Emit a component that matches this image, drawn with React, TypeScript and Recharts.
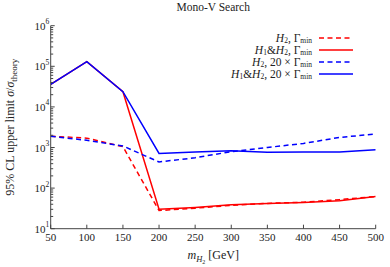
import React from 'react';
import { LineChart, Line, XAxis, YAxis, Legend } from 'recharts';

const massValues = [50, 100, 150, 200, 250, 300, 350, 400, 450, 500];
const h2GminValues = [1900, 1700, 1050, 28, 32, 37.6, 42, 45, 52, 62];
const h1h2GminValues = [36000, 130000, 23700, 30, 33.5, 39, 42, 44.5, 49, 62];
const h2G20Values = [1900, 1500, 1090, 440, 560, 790, 1000, 1260, 1770, 2150];
const h1h2G20Values = [36000, 130000, 23700, 716, 773, 830, 760, 775, 775, 884];

const xTicks = [50, 100, 150, 200, 250, 300, 350, 400, 450, 500];
const yMajorTicks = [10, 100, 1000, 10000, 100000, 1000000];
const yMinorMultipliers = [2, 3, 4, 5, 6, 7, 8, 9];

const yMinorTicks: number[] = [];
yMajorTicks.slice(0, -1).forEach((d) => yMinorMultipliers.forEach((k) => yMinorTicks.push(d * k)));
const yAllTicks = [...yMajorTicks, ...yMinorTicks].sort((a, b) => a - b);

const data = massValues.map((m, i) => ({
  m,
  h2Gmin: h2GminValues[i],
  h1h2Gmin: h1h2GminValues[i],
  h2G20: h2G20Values[i],
  h1h2G20: h1h2G20Values[i],
}));

type Series = { key: string; color: string; dashed: boolean; both: boolean; wide: boolean };
const series: Series[] = [
  { key: 'h2Gmin', color: '#ff0000', dashed: true, both: false, wide: false },
  { key: 'h1h2Gmin', color: '#ff0000', dashed: false, both: true, wide: false },
  { key: 'h2G20', color: '#0000ff', dashed: true, both: false, wide: true },
  { key: 'h1h2G20', color: '#0000ff', dashed: false, both: true, wide: true },
];

const FONT = '"Liberation Serif", "DejaVu Serif", serif';
const FRAME = '#444';
const TEXT = '#222';
const DASH = '5 3.5';

const isMajor = (v: number) => yMajorTicks.includes(v);

const BottomTick = (props: any) => {
  const { x, y, payload } = props;
  return (
    <g>
      <line x1={x} y1={y} x2={x} y2={y - 4} stroke={FRAME} strokeWidth={1} />
      <text x={x} y={y + 12.5} textAnchor="middle" fontSize={11} fontFamily={FONT} fill={TEXT}>
        {payload.value}
      </text>
    </g>
  );
};

const TopTick = (props: any) => {
  const { x, y } = props;
  return <line x1={x} y1={y} x2={x} y2={y + 4} stroke={FRAME} strokeWidth={1} />;
};

const LeftTick = (props: any) => {
  const { x, y, payload } = props;
  const v = payload.value;
  const major = isMajor(v);
  return (
    <g>
      <line x1={x} y1={y} x2={x + (major ? 4 : 2.5)} y2={y} stroke={FRAME} strokeWidth={1} />
      {major && (
        <text x={x - 1.5} y={y + 4} textAnchor="end" fontSize={11} fontFamily={FONT} fill={TEXT}>
          <tspan>10</tspan>
          <tspan dy={-5.5} fontSize={7.5}>{Math.round(Math.log10(v))}</tspan>
        </text>
      )}
    </g>
  );
};

const RightTick = (props: any) => {
  const { x, y, payload } = props;
  const major = isMajor(payload.value);
  return <line x1={x} y1={y} x2={x - (major ? 4 : 2.5)} y2={y} stroke={FRAME} strokeWidth={1} />;
};

const Sub = ({ children, size = 7.5 }: any) => (
  <span style={{ fontSize: size, position: 'relative', top: 1.5, lineHeight: '7px', display: 'inline-block' }}>
    {children}
  </span>
);

const LegendLabel = ({ s }: { s: Series }) => (
  <span style={{ lineHeight: '11px', display: 'inline-block' }}>
    {s.both ? (
      <>
        <i>H</i>
        <Sub>1</Sub>&amp;<i>H</i>
        <Sub>2</Sub>
      </>
    ) : (
      <>
        <i>H</i>
        <Sub>2</Sub>
      </>
    )}
    {', '}
    {s.wide ? '20 × ' : ''}Γ<Sub>min</Sub>
  </span>
);

const LegendContent = () => (
  <div style={{ fontFamily: FONT, fontSize: 11.5, color: TEXT }}>
    {series.map((s) => (
      <div
        key={s.key}
        style={{ display: 'flex', alignItems: 'center', justifyContent: 'flex-end', height: 12, whiteSpace: 'nowrap' }}
      >
        <LegendLabel s={s} />
        <svg width={34} height={12} style={{ marginLeft: 7, flexShrink: 0 }}>
          <line
            x1={0}
            y1={6}
            x2={34}
            y2={6}
            stroke={s.color}
            strokeWidth={1.6}
            strokeDasharray={s.dashed ? DASH : undefined}
          />
        </svg>
      </div>
    ))}
  </div>
);

const YLabel = (props: any) => {
  const vb = props.viewBox || { x: 0, y: 0, width: 50, height: 200 };
  const cx = 14;
  const cy = vb.y + vb.height / 2;
  return (
    <text
      x={cx}
      y={cy}
      transform={`rotate(-90 ${cx} ${cy})`}
      textAnchor="middle"
      fontSize={12}
      fontFamily={FONT}
      fill={TEXT}
    >
      <tspan>95% CL upper limit </tspan>
      <tspan fontStyle="italic">σ</tspan>
      <tspan>/</tspan>
      <tspan fontStyle="italic">σ</tspan>
      <tspan dy={3} fontSize={9}>theory</tspan>
    </text>
  );
};

const XLabel = (props: any) => {
  const vb = props.viewBox || { x: 50, y: 230, width: 325, height: 38 };
  const cx = vb.x + vb.width / 2;
  return (
    <text x={cx} y={259} textAnchor="middle" fontSize={12} fontFamily={FONT} fill={TEXT}>
      <tspan fontStyle="italic">m</tspan>
      <tspan dy={3} fontSize={8.5} fontStyle="italic">H</tspan>
      <tspan dy={1.5} fontSize={6}>2</tspan>
      <tspan dy={-4.5}> [GeV]</tspan>
    </text>
  );
};

export default function App() {
  return (
    <div style={{ position: 'absolute', left: 0, top: 0, width: 390, height: 267, background: '#fff' }}>
      <LineChart width={390} height={267} data={data} margin={{ top: 25.7, right: 14.3, bottom: 0, left: 0 }}>
        <text x={213.2} y={11} textAnchor="middle" fontSize={11.5} fontFamily={FONT} fill={TEXT}>
          Mono-V Search
        </text>
        <XAxis
          xAxisId="b"
          dataKey="m"
          type="number"
          domain={[50, 500]}
          ticks={xTicks}
          orientation="bottom"
          height={38.3}
          tickSize={0}
          tickMargin={0}
          tickLine={false}
          tick={<BottomTick />}
          axisLine={{ stroke: FRAME, strokeWidth: 1 }}
          allowDataOverflow
          interval={0}
          label={<XLabel />}
        />
        <XAxis
          xAxisId="t"
          dataKey="m"
          type="number"
          domain={[50, 500]}
          ticks={xTicks}
          orientation="top"
          height={0}
          tickSize={0}
          tickMargin={0}
          tickLine={false}
          tick={<TopTick />}
          axisLine={{ stroke: FRAME, strokeWidth: 1 }}
          allowDataOverflow
          interval={0}
        />
        <YAxis
          yAxisId="l"
          scale="log"
          type="number"
          domain={[10, 1000000]}
          ticks={yAllTicks}
          orientation="left"
          width={50.7}
          tickSize={0}
          tickMargin={0}
          tickLine={false}
          tick={<LeftTick />}
          axisLine={{ stroke: FRAME, strokeWidth: 1 }}
          allowDataOverflow
          interval={0}
          label={<YLabel />}
        />
        <YAxis
          yAxisId="r"
          scale="log"
          type="number"
          domain={[10, 1000000]}
          ticks={yAllTicks}
          orientation="right"
          width={0}
          tickSize={0}
          tickMargin={0}
          tickLine={false}
          tick={<RightTick />}
          axisLine={{ stroke: FRAME, strokeWidth: 1 }}
          allowDataOverflow
          interval={0}
        />
        <Legend
          layout="vertical"
          align="center"
          verticalAlign="middle"
          content={<LegendContent />}
          wrapperStyle={{ position: 'absolute', top: 32, right: 37, left: 'auto', width: 'auto', bottom: 'auto' }}
        />
        {series.map((s) => (
          <Line
            key={s.key}
            xAxisId="b"
            yAxisId="l"
            dataKey={s.key}
            type="linear"
            stroke={s.color}
            strokeWidth={1.5}
            strokeDasharray={s.dashed ? DASH : undefined}
            dot={false}
            activeDot={false}
            isAnimationActive={false}
          />
        ))}
      </LineChart>
    </div>
  );
}
